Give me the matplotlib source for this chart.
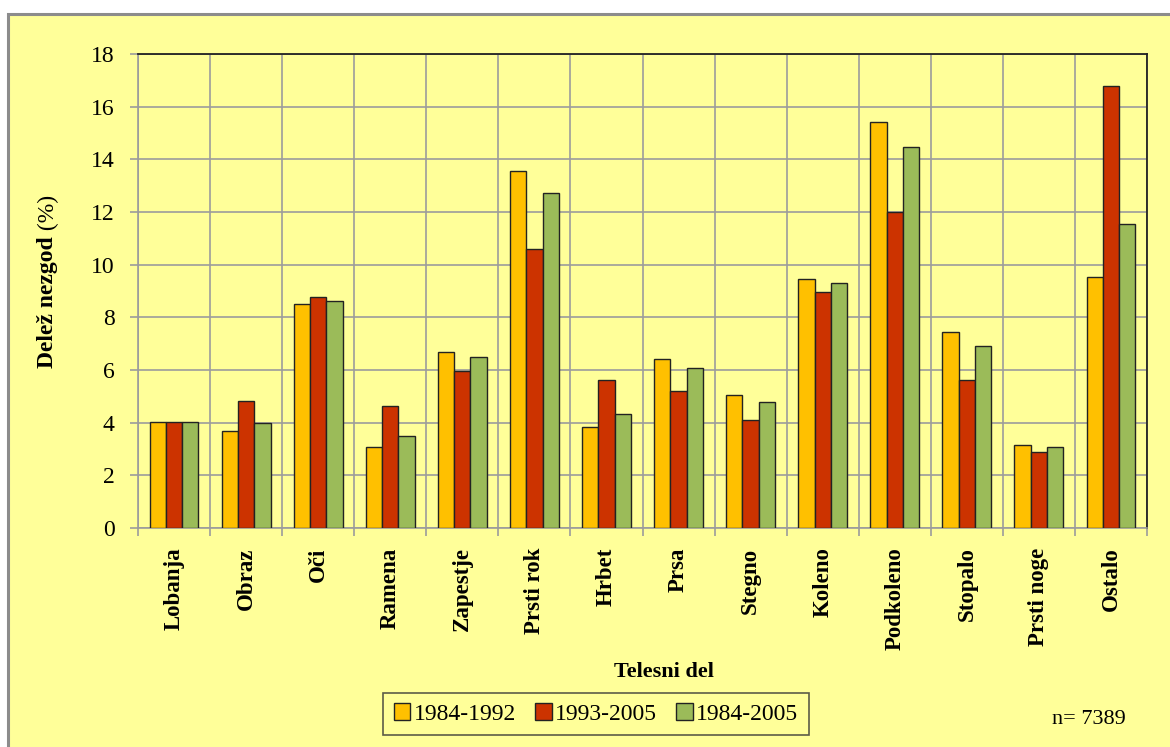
import matplotlib
matplotlib.use('Agg')
import matplotlib.pyplot as plt
import numpy as np
from matplotlib.patches import Rectangle

categories = ['Lobanja', 'Obraz', 'Oči', 'Ramena', 'Zapestje', 'Prsti rok', 'Hrbet',
              'Prsa', 'Stegno', 'Koleno', 'Podkoleno', 'Stopalo', 'Prsti noge', 'Ostalo']
v_1984_1992 = [4.03, 3.70, 8.52, 3.07, 6.67, 13.55, 3.84, 6.42, 5.06, 9.45, 15.41, 7.45, 3.16, 9.55]
v_1993_2005 = [4.03, 4.82, 8.78, 4.62, 5.95, 10.58, 5.61, 5.21, 4.10, 8.97, 11.99, 5.61, 2.87, 16.77]
v_1984_2005 = [4.03, 3.98, 8.63, 3.50, 6.48, 12.72, 4.33, 6.08, 4.77, 9.31, 14.47, 6.93, 3.06, 11.56]
series_names = ['1984-1992', '1993-2005', '1984-2005']
colors = ['#FFC000', '#CC3300', '#9BBB59']

bg = '#FFFF99'
grid_c = '#9C9C9C'
plt.rcParams['font.family'] = ['Liberation Serif', 'DejaVu Serif']

fig = plt.figure(figsize=(11.7, 7.47), dpi=100)
fig.patch.set_facecolor('white')
frame = Rectangle((8 / 1170, -0.01), 1.02, 1 - 14 / 747 + 0.01,
                  transform=fig.transFigure, facecolor=bg,
                  edgecolor='#8C8C8C', linewidth=2.2, zorder=-10)
fig.patches.append(frame)

ax = fig.add_axes([138 / 1170, 1 - 528 / 747, 1009 / 1170, 474 / 747])
ax.set_facecolor(bg)

x = np.arange(len(categories))
w = 0.226
for i, (vals, name) in enumerate(zip([v_1984_1992, v_1993_2005, v_1984_2005], series_names)):
    ax.bar(x + (i - 1) * w, vals, width=w, color=colors[i], edgecolor='#222222',
           linewidth=1.0, label=name, zorder=3)

ax.set_xlim(-0.5, len(categories) - 0.5)
ax.set_ylim(0, 18)
ax.set_yticks(np.arange(0, 19, 2))
ax.set_xticks(np.arange(len(categories) + 1) - 0.5)
ax.set_xticklabels([])
ax.set_xticks(x, minor=True)
ax.set_xticklabels(categories, minor=True, rotation=90, fontsize=16.5, fontweight='bold')
ax.tick_params(axis='x', which='minor', length=0, pad=14)
ax.tick_params(axis='x', which='major', length=6, color=grid_c, width=1.2)
ax.tick_params(axis='y', length=6, color=grid_c, width=1.2, labelsize=17, pad=11)
ax.grid(True, which='major', color=grid_c, linewidth=1.2, zorder=0)
ax.set_axisbelow(True)

for s in ['top', 'right']:
    ax.spines[s].set_color('#222222')
    ax.spines[s].set_linewidth(1.3)
for s in ['left', 'bottom']:
    ax.spines[s].set_color(grid_c)
    ax.spines[s].set_linewidth(1.2)

fig.text(48 / 1170, 1 - 236 / 747, 'Delež nezgod', rotation=90, fontsize=17,
         fontweight='bold', ha='center', va='top')
fig.text(48 / 1170, 1 - 236 / 747, ' (%)', rotation=90, fontsize=17,
         ha='center', va='bottom')
fig.text(664 / 1170, 1 - 672 / 747, 'Telesni del', fontsize=16, fontweight='bold',
         ha='center', va='center')
fig.text(1089 / 1170, 1 - 720 / 747, 'n= 7389', fontsize=16, ha='center', va='center')

leg = fig.legend(loc='center', bbox_to_anchor=(596 / 1170, 1 - 714 / 747), ncol=3,
                 fontsize=17, frameon=True, fancybox=False, handlelength=0.7,
                 handleheight=0.7, handletextpad=0.15, columnspacing=0.8,
                 borderpad=0.45)
leg.get_frame().set_edgecolor('#333333')
leg.get_frame().set_facecolor(bg)
leg.get_frame().set_linewidth(1.2)

fig.savefig('out.png', dpi=100, facecolor=fig.get_facecolor())
